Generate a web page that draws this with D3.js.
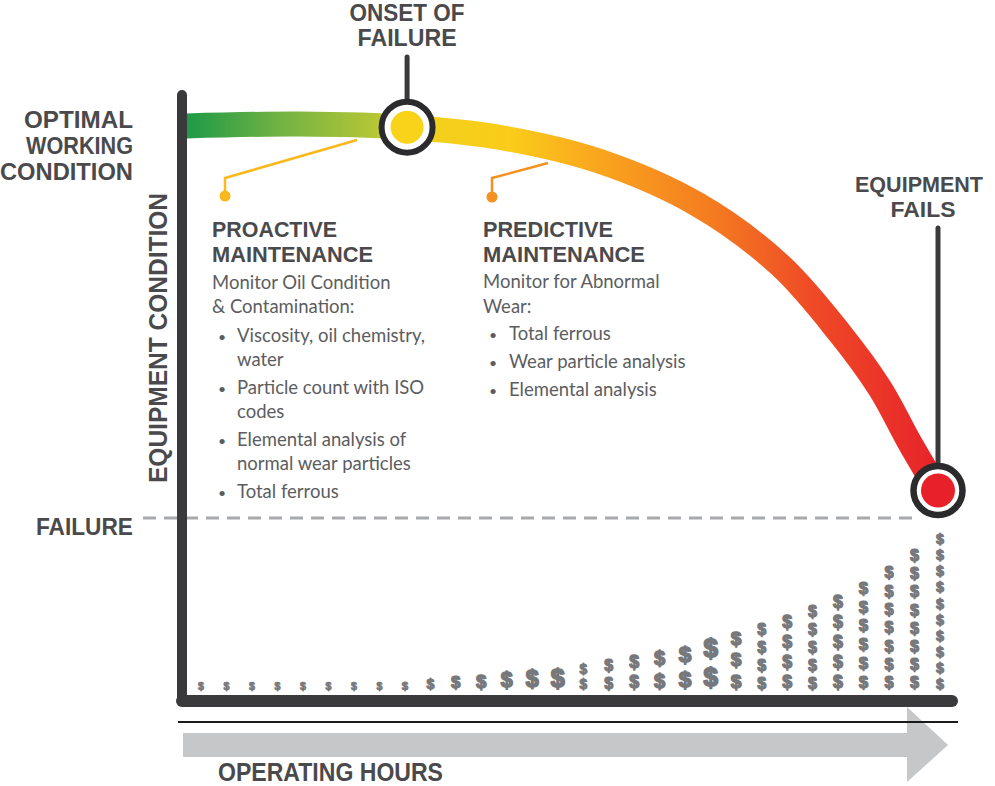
<!DOCTYPE html>
<html><head><meta charset="utf-8">
<script src="https://cdn.jsdelivr.net/npm/d3@7"></script>
<style>body{margin:0;background:#fff} svg{display:block}</style>
</head><body><svg id="c" width="995" height="786"></svg>
<script>
// ---- data ----
const hours     = [0, 15, 29.4, 42, 55, 68, 79, 87, 92.3, 96.3, 100];
const condition = [100, 100.5, 99.7, 97, 91, 80, 64.5, 47, 33, 19, 7];
const onsetHours = 29.4;
const failHours = 100;
const failCondition = 7;
const failureLevel = 0;
// cost per period: number of $ stacked and relative size of each $
const costCount = [1,1,1,1,1,1,1,1,1,1,1,1,1,1,1, 2,2,2,2,2,2, 3,4,4,5,5,6,7,8,10];
const costLevel = [1,1,1,1,1,1,1,1,1.08,1.33,1.58,1.75,2,2.17,2.33,
                   1.29,1.5,1.67,1.88,2.12,2.42, 1.8,1.5,1.67,1.5,1.67,1.58,1.53,1.52,1.34];
const proactiveBody = ["Monitor Oil Condition","& Contamination:"];
const proactiveBullets = [["Viscosity, oil chemistry,","water"],["Particle count with ISO","codes"],["Elemental analysis of","normal wear particles"],["Total ferrous"]];
const predictiveBody = ["Monitor for Abnormal","Wear:"];
const predictiveBullets = [["Total ferrous"],["Wear particle analysis"],["Elemental analysis"]];

// ---- setup ----
const svg = d3.select("#c");
const x = d3.scaleLinear([0,100],[186,938]);
const y = d3.scaleLinear([0,100],[518,126]);
const dark = "#3a3a3c", headC = "#4a4a4c", bodyC = "#5c5d5f";
const HEAD = "'Liberation Sans', Arial, sans-serif", BODY = "Lato, 'Open Sans', sans-serif";

function head(t, px, py, anchor, size, len, g){
  return (g||svg).append("text").attr("x",px).attr("y",py).attr("text-anchor",anchor)
    .attr("font-family",HEAD).attr("font-weight",700).attr("font-size",size).attr("fill",headC)
    .attr("textLength",len).attr("lengthAdjust","spacingAndGlyphs").text(t);
}
function body(t, px, py, fs){
  return svg.append("text").attr("x",px).attr("y",py).attr("font-family",BODY)
    .attr("font-weight",400).attr("font-size",fs||18.5).attr("fill",bodyC).text(t);
}

// gradient
const defs = svg.append("defs");
const grad = defs.append("linearGradient").attr("id","cg").attr("gradientUnits","userSpaceOnUse")
  .attr("x1",x(0)).attr("x2",x(100)).attr("y1",0).attr("y2",0);
[[0,"#1d9a48"],[0.12,"#6fb143"],[0.25,"#b3c636"],[0.31,"#f1d11c"],[0.43,"#fbcc1a"],
 [0.55,"#f9a51e"],[0.7,"#f47b20"],[0.83,"#ef4b26"],[1,"#e7232a"]]
 .forEach(s=>grad.append("stop").attr("offset",s[0]).attr("stop-color",s[1]));

// failure dashed line
svg.append("line").attr("x1",143).attr("x2",x(failHours)-20).attr("y1",y(failureLevel)).attr("y2",y(failureLevel))
  .attr("stroke","#a7a9ac").attr("stroke-width",3).attr("stroke-dasharray","13,8");

// dollar stacks
const col = d3.scalePoint(d3.range(costCount.length),[201,940]);
const glyphH = d3.scaleLinear([0,1],[0,12]);
const baseY = 692;
costCount.forEach((n,i)=>{
  const h = glyphH(costLevel[i]);
  const fs = h/1.12;
  for(let k=0;k<n;k++){
    svg.append("text").attr("x",col(i)).attr("y",baseY-0.215*fs-k*h)
      .attr("text-anchor","middle").attr("font-family","'Liberation Sans', Arial, sans-serif")
      .attr("font-weight",700).attr("font-size",fs).attr("fill","#77787b")
      .attr("stroke","#77787b").attr("stroke-width",fs*0.07).attr("stroke-linejoin","round").text("$");
  }
});

// condition curve
const pts = hours.map((h,i)=>[h,condition[i]]);
const line = d3.line().x(d=>x(d[0])).y(d=>y(d[1])).curve(d3.curveCatmullRom.alpha(0.5));
svg.append("path").attr("d",line(pts)).attr("fill","none").attr("stroke","url(#cg)").attr("stroke-width",25);

// leader lines
svg.append("polyline").attr("points","357,140 225,178 225,196").attr("fill","none").attr("stroke","#f9b81b").attr("stroke-width",2.5);
svg.append("circle").attr("cx",225).attr("cy",196).attr("r",5.5).attr("fill","#f9b81b");
svg.append("polyline").attr("points","548,163 492,178 492,196").attr("fill","none").attr("stroke","#f6901e").attr("stroke-width",2.5);
svg.append("circle").attr("cx",492).attr("cy",197).attr("r",5.5).attr("fill","#f6901e");

// axes
svg.append("line").attr("x1",x(0)-4).attr("x2",x(0)-4).attr("y1",95).attr("y2",701)
  .attr("stroke",dark).attr("stroke-width",10).attr("stroke-linecap","round");
svg.append("line").attr("x1",x(0)-4).attr("x2",952).attr("y1",701).attr("y2",701)
  .attr("stroke",dark).attr("stroke-width",12).attr("stroke-linecap","round");

// arrow
svg.append("rect").attr("x",183).attr("y",733).attr("width",726).attr("height",24).attr("fill","#c6c7c9");
svg.append("polygon").attr("points","907,707 948,745 907,782").attr("fill","#c6c7c9");
svg.append("line").attr("x1",178).attr("x2",958).attr("y1",722).attr("y2",722).attr("stroke","#1a1a1a").attr("stroke-width",2);

// markers
const onsetC = condition[hours.indexOf(onsetHours)];
const ox = x(onsetHours), oy = y(onsetC);
svg.append("line").attr("x1",ox).attr("x2",ox).attr("y1",57).attr("y2",oy-25).attr("stroke",dark).attr("stroke-width",5).attr("stroke-linecap","round");
svg.append("circle").attr("cx",ox).attr("cy",oy).attr("r",25.5).attr("fill","#fff").attr("stroke","#2b2b2d").attr("stroke-width",6);
svg.append("circle").attr("cx",ox).attr("cy",oy).attr("r",16.5).attr("fill","#f8d31a");

const fx = x(failHours), fy = y(failCondition);
svg.append("line").attr("x1",fx).attr("x2",fx).attr("y1",228).attr("y2",fy-24).attr("stroke",dark).attr("stroke-width",5).attr("stroke-linecap","round");
svg.append("circle").attr("cx",fx).attr("cy",fy).attr("r",24.5).attr("fill","#fff").attr("stroke","#2b2b2d").attr("stroke-width",6.5);
svg.append("circle").attr("cx",fx).attr("cy",fy).attr("r",17).attr("fill","#e8202a");

// labels
head("ONSET OF", ox, 20.5, "middle", 23, 115);
head("FAILURE", ox, 46, "middle", 23, 99);
head("OPTIMAL", 133, 128, "end", 23, 109);
head("WORKING", 133, 154, "end", 23, 107);
head("CONDITION", 133, 180, "end", 23, 133);
head("FAILURE", 133, 535, "end", 24, 97);
head("EQUIPMENT", 919, 192, "middle", 22.3, 128);
head("FAILS", 923, 217, "middle", 22.3, 65);
const rot = svg.append("g").attr("transform","translate(167,338) rotate(-90)");
head("EQUIPMENT CONDITION", 0, 0, "middle", 26, 290, rot);
head("OPERATING HOURS", 218, 781, "start", 25, 225);

head("PROACTIVE", 212, 237, "start", 22.3, 125);
head("MAINTENANCE", 212, 262, "start", 22.3, 161);
head("PREDICTIVE", 483, 237, "start", 22.3, 130);
head("MAINTENANCE", 483, 262, "start", 22.3, 162);

body(proactiveBody[0],212,289); body(proactiveBody[1],212,313);
let by = 342;
proactiveBullets.forEach(item=>{
  body("•",218,by,14);
  item.forEach((t,j)=>{ body(t,237,by+j*24); });
  by += 24*item.length + 4;
});
body(predictiveBody[0],483,288); body(predictiveBody[1],483,313);
by = 340;
predictiveBullets.forEach(item=>{
  body("•",489,by,14);
  body(item[0],509,by);
  by += 28;
});
</script></body></html>
